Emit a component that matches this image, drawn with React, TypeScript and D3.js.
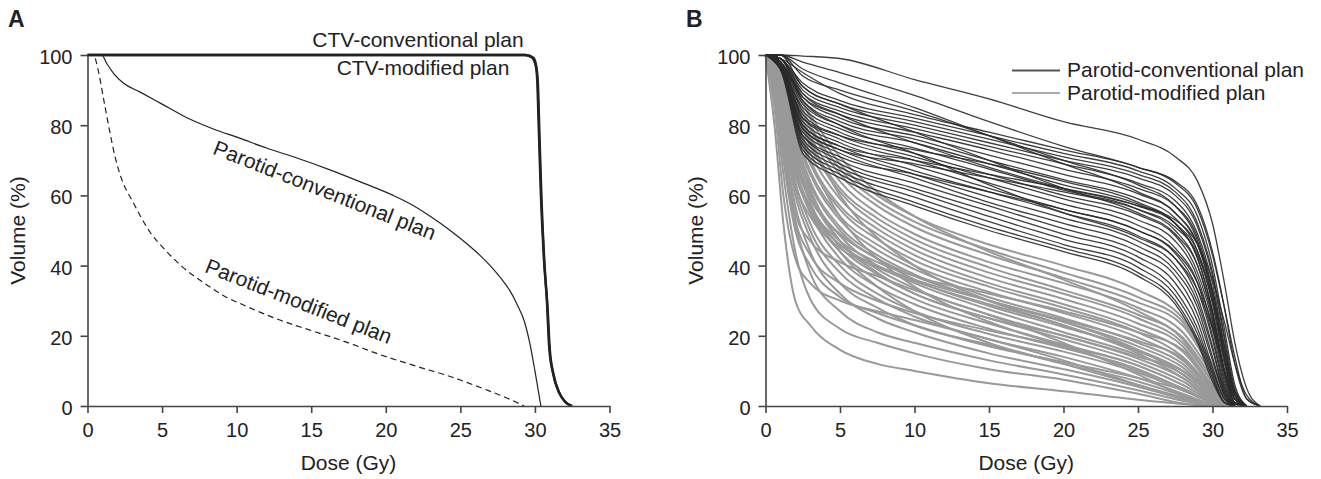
import { useEffect, useRef } from 'react';
import * as d3 from 'd3';

const DOSE_TICKS = [0, 5, 10, 15, 20, 25, 30, 35];
const VOLUME_TICKS = [0, 20, 40, 60, 80, 100];

// Panel A curves, [dose Gy, volume %]
const ctvConventional = [
  [0, 100], [29.3, 100], [29.8, 99.3], [30.05, 97], [30.15, 93], [30.25, 80], [30.4, 60],
  [30.6, 42], [30.8, 30], [30.95, 17], [31.2, 9.5], [31.6, 4], [32, 1.3], [32.45, 0],
];
const ctvModified = [
  [0, 100], [29.4, 100], [29.9, 99.2], [30.1, 96.5], [30.2, 92], [30.3, 78], [30.45, 58],
  [30.65, 40], [30.85, 28], [31.0, 16], [31.25, 9], [31.65, 3.6], [32.05, 1.1], [32.5, 0],
];
const parotidConventional = [
  [0, 100], [0.95, 100], [1.3, 97.5], [1.8, 94.5], [2.4, 92], [3.5, 89.5], [5, 86], [6.5, 82.5],
  [8.4, 79], [10.2, 76.3], [12, 73.5], [13.8, 71], [16.3, 67.2], [18.5, 63.5], [20.5, 60],
  [21.6, 57.7], [23, 54], [24.3, 50.1], [25.5, 46], [26.3, 43], [27, 40], [27.7, 36.5],
  [28.3, 33], [28.8, 29], [29.3, 24], [29.7, 17], [30, 10], [30.4, 0],
];
const parotidModified = [
  [0, 100], [0.4, 100], [0.7, 96], [1.1, 87], [1.5, 78], [1.85, 71], [2.3, 64.5], [3, 58.5],
  [4.2, 49.5], [5.2, 44.5], [6.4, 39.5], [8, 34.5], [9.1, 31.5], [10.5, 28.7], [12.7, 24.8],
  [15, 21.5], [17.5, 18], [19.5, 14.8], [22, 11.4], [24.6, 8], [26.5, 5], [28, 2.5], [29.27, 0],
];

// Panel B: volume % at shared dose points
const convDoses = [0, 1, 2.5, 5, 10, 15, 20, 25, 27.5, 29, 30, 30.8, 31.5, 32.3, 33.2];
const convCurves = [
  [100, 100, 99.7, 99, 93, 87.5, 81, 76, 71, 64, 52, 35, 18, 5, 0],
  [100, 100, 98, 95, 88.5, 81, 74, 68, 64, 57, 44, 28, 12, 2, 0],
  [100, 99, 95, 89, 83, 78, 73, 68, 63.5, 56, 43, 28, 14, 2, 0],
  [100, 99, 92, 87, 82, 77, 72, 67, 62, 54, 40, 22, 6, 0, 0],
  [100, 100, 91, 86, 81, 76, 71, 66, 61, 52, 38, 20, 5, 0, 0],
  [100, 99, 90, 85, 80, 75, 70, 65, 60, 51, 37, 19, 4, 0, 0],
  [100, 98, 89, 84, 79, 74, 69, 63.5, 58.5, 49, 35, 17, 3, 0, 0],
  [100, 99, 88, 83, 78, 73, 67.5, 62, 57, 48, 33, 15, 3, 0, 0],
  [100, 98, 88, 82, 77, 71.5, 66, 60.5, 55, 46, 31, 13, 2, 0, 0],
  [100, 99, 87, 81, 76, 70, 64.5, 59, 53.5, 44, 29, 12, 2, 0, 0],
  [100, 98, 86, 80, 75, 69, 63, 57.5, 52, 42, 27, 10, 1, 0, 0],
  [100, 97, 85, 79, 73.5, 67.5, 61.5, 56, 50, 40, 25, 9, 1, 0, 0],
  [100, 98, 84, 78, 72, 66, 60, 54.5, 48.5, 38, 24, 8, 1, 0, 0],
  [100, 97, 83, 77, 71, 65, 59, 53, 47, 36.5, 22, 7, 0.5, 0, 0],
  [100, 98, 82, 76, 70, 63.5, 57.5, 51.5, 45, 35, 20, 6, 0.5, 0, 0],
  [100, 97, 81, 75, 68.5, 62, 56, 50, 43.5, 33, 19, 5, 0, 0, 0],
  [100, 96, 80, 74, 67, 61, 55, 48.5, 42, 31, 17, 4, 0, 0, 0],
  [100, 97, 79, 73, 66, 59.5, 53.5, 47, 40, 29.5, 16, 4, 0, 0, 0],
  [100, 96, 78, 72, 65, 58, 52, 45.5, 38.5, 28, 14, 3, 0, 0, 0],
  [100, 97, 77, 70, 63.5, 57, 50.5, 44, 37, 26, 13, 3, 0, 0, 0],
  [100, 96, 76, 69, 62, 55.5, 49, 42.5, 35, 24, 11, 2, 0, 0, 0],
  [100, 97, 75, 68, 61, 54, 47.5, 41, 33, 22, 10, 2, 0, 0, 0],
  [100, 96, 74, 67, 59.5, 52.5, 46, 39.5, 31.5, 20.5, 9, 1, 0, 0, 0],
  [100, 97, 73, 66, 58, 51, 45, 38, 30, 19, 8, 1, 0, 0, 0],
  [100, 96, 72, 65, 57, 50, 44, 37, 29, 18, 7, 1, 0, 0, 0],
  [100, 100, 94, 90, 84, 77, 70, 63, 57, 47, 32, 14, 2, 0, 0],
  [100, 98, 82, 77, 73, 69, 64, 58, 52, 42, 27, 10, 1, 0, 0],
  [100, 99, 91, 86, 78, 70, 62, 55, 49, 40, 26, 10, 1, 0, 0],
  [100, 97, 79, 73, 69, 65, 61, 56, 51, 43, 30, 14, 3, 0, 0],
  [100, 100, 96, 92, 85, 77, 69, 61, 55, 46, 33, 17, 4, 0, 0],
  [100, 98, 87, 80, 72, 63, 55, 48, 42, 33, 22, 10, 2, 0, 0],
  [100, 96, 77, 71, 66, 61, 56, 50, 44, 35, 23, 10, 2, 0, 0],
  [100, 99, 89, 83, 75, 68, 62, 57, 53, 46, 36, 24, 12, 3, 0],
  [100, 97, 80, 74, 70, 66, 62, 57, 52, 44, 31, 16, 4, 0, 0],
];

const modDoses = [0, 0.6, 1.2, 2, 3, 5, 7.5, 10, 15, 20, 25, 28, 30, 31.5];
const modCurves = [
  [100, 80, 52, 30, 23, 16, 12, 10, 6.5, 4.2, 1.8, 0.6, 0, 0],
  [100, 88, 66, 44, 30.5, 22, 18, 15, 10.5, 7.5, 3.5, 0.8, 0, 0],
  [100, 90, 72, 52, 38, 27, 21, 18, 13, 9, 4.5, 1.5, 0, 0],
  [100, 92, 76, 57, 44, 32, 25, 21, 15, 10.5, 5.5, 2, 0.3, 0],
  [100, 93, 78, 60, 48, 35, 28, 23, 17.5, 12, 7, 3, 0.5, 0],
  [100, 94, 80, 62, 50, 38, 30.5, 25.5, 19, 14, 8, 3.5, 0.6, 0],
  [100, 95, 82, 64, 52, 40, 32, 27, 20.5, 15.5, 9.5, 4.5, 1, 0],
  [100, 94, 81, 66, 55, 42, 34, 29, 22, 16.5, 10.5, 5, 1.2, 0],
  [100, 96, 84, 68, 56, 44, 36, 30.5, 23.5, 17.5, 11.5, 6, 1.5, 0],
  [100, 95, 85, 70, 58, 45.5, 37.5, 32, 25, 19, 12.5, 7, 1.8, 0],
  [100, 96, 86, 71, 60, 47, 39, 33.5, 26, 20, 13.5, 8, 2, 0],
  [100, 97, 87, 73, 61, 48.5, 40, 35, 27.5, 21, 14.5, 9, 2.5, 0],
  [100, 96, 88, 74, 63, 50, 42, 36, 28.5, 22.5, 16, 10, 3, 0],
  [100, 97, 89, 76, 64, 51, 43, 37.5, 30, 24, 17, 11, 3.5, 0],
  [100, 98, 90, 77, 66, 53, 44.5, 39, 31, 25, 18, 12, 4, 0],
  [100, 97, 90, 78, 67, 54, 46, 40, 32.5, 26.5, 19.5, 13, 4.5, 0],
  [100, 98, 91, 80, 69, 56, 47.5, 41.5, 34, 28, 21, 14, 5, 0],
  [100, 98, 92, 81, 70, 57, 49, 43, 35, 29, 22, 15.5, 5.5, 0],
  [100, 99, 93, 82, 72, 59, 50.5, 44.5, 36.5, 30.5, 23.5, 17, 6, 0],
  [100, 98, 93, 84, 74, 61, 52, 46, 38, 32, 25, 18, 7, 0],
  [100, 99, 94, 85, 75, 62, 53.5, 47.5, 39.5, 33, 26, 19.5, 8, 0],
  [100, 99, 95, 87, 77, 64, 55, 49, 41, 35, 28, 21, 9, 0],
  [100, 99, 95, 88, 79, 66, 57, 51, 43, 36.5, 29.5, 23, 10, 0],
  [100, 100, 96, 89, 80, 67.5, 58.5, 52.5, 44.5, 38, 31, 24, 11, 0],
  [100, 100, 97, 91, 82, 69, 60, 54, 46, 40, 33, 25, 12, 0],
  [100, 85, 60, 42, 35, 30, 27, 24.5, 19, 13, 6, 2, 0, 0],
  [100, 92, 74, 55, 47, 41, 37, 33, 26, 18, 9, 3, 0.3, 0],
  [100, 97, 88, 72, 58, 44, 34, 27, 18, 12, 6, 2.5, 0.4, 0],
  [100, 98, 92, 82, 70, 54, 42, 34, 24, 17, 10, 5, 1, 0],
  [100, 95, 83, 66, 56, 46, 40, 36, 30, 24, 16, 9, 2.5, 0],
  [100, 99, 94, 86, 76, 60, 48, 40, 30, 23, 15, 8, 2, 0],
  [100, 93, 79, 63, 54, 45, 39.5, 35.5, 29, 23, 15.5, 10, 3, 0],
  [100, 96, 85, 69, 59, 49, 42, 37, 30, 24.5, 18.5, 13.5, 5, 0],
  [100, 90, 70, 50, 40, 31, 26.5, 23, 17, 12.5, 8, 4.5, 1, 0],
  [100, 99, 96, 90, 83, 71, 61, 54, 44, 36, 27, 19, 7, 0],
  [100, 94, 82, 67, 57, 47, 41, 37, 32, 27, 21, 16, 6, 0],
  [100, 97, 89, 75, 62, 47, 38, 32, 25, 20, 14, 10, 4, 0],
  [100, 91, 73, 53, 43, 35, 30, 26.5, 21.5, 17, 11.5, 6, 1.5, 0],
];

const FONT = '"Liberation Sans", Arial, Helvetica, sans-serif';
const AXIS_COLOR = '#444';

// keep points up to the first zero so the tail does not run along the axis
function toPoints(doses: number[], vols: number[]) {
  const pts: [number, number][] = [];
  for (let i = 0; i < doses.length; i++) {
    pts.push([doses[i], vols[i]]);
    if (vols[i] === 0) break;
  }
  return pts;
}

function Axes({ x, y }: { x: d3.ScaleLinear<number, number>; y: d3.ScaleLinear<number, number> }) {
  const gx = useRef<SVGGElement>(null);
  const gy = useRef<SVGGElement>(null);

  useEffect(() => {
    const xAxis = d3.axisBottom(x).tickValues(DOSE_TICKS).tickSize(7).tickSizeOuter(0).tickPadding(10);
    const yAxis = d3.axisLeft(y).tickValues(VOLUME_TICKS).tickSize(7).tickSizeOuter(0).tickPadding(8);
    [
      d3.select(gx.current!).call(xAxis),
      d3.select(gy.current!).call(yAxis),
    ].forEach((g) => {
      g.attr('font-family', FONT).attr('font-size', 20);
      g.selectAll('path, line').attr('stroke', AXIS_COLOR).attr('stroke-width', 1.6);
      g.selectAll('text').attr('fill', '#222');
    });
    d3.select(gy.current!).selectAll('text').attr('dy', '0.42em');
  }, [x, y]);

  return (
    <>
      <g ref={gx} transform={`translate(0,${y(0)})`} />
      <g ref={gy} transform={`translate(${x(0)},0)`} />
    </>
  );
}

export default function App() {
  const width = 1321;
  const height = 479;
  const yScale = d3.scaleLinear().domain([0, 100]).range([406, 55]);
  const xA = d3.scaleLinear().domain([0, 35]).range([87.5, 609.5]);
  const xB = d3.scaleLinear().domain([0, 35]).range([765.5, 1287]);

  const lineA = d3.line<number[]>().x((d) => xA(d[0])).y((d) => yScale(d[1])).curve(d3.curveMonotoneX);
  const lineB = d3.line<number[]>().x((d) => xB(d[0])).y((d) => yScale(d[1])).curve(d3.curveMonotoneX);

  const midY = (yScale(0) + yScale(100)) / 2;

  return (
    <svg
      width={width}
      height={height}
      style={{ position: 'absolute', left: 0, top: 0, background: '#fff' }}
      fontFamily={FONT}
    >
      {/* Panel A */}
      <text x={8} y={27} fontSize={23} fontWeight="bold" fill="#222">A</text>
      <path d={lineA(parotidModified)!} fill="none" stroke="#222" strokeWidth={1.2} strokeDasharray="6,4" />
      <path d={lineA(parotidConventional)!} fill="none" stroke="#222" strokeWidth={1.2} />
      <path d={lineA(ctvModified)!} fill="none" stroke="#222" strokeWidth={2.4} />
      <path d={lineA(ctvConventional)!} fill="none" stroke="#222" strokeWidth={2.4} />
      <Axes x={xA} y={yScale} />
      <text x={418} y={47} fontSize={21} textAnchor="middle" fill="#222">CTV-conventional plan</text>
      <text x={423} y={75} fontSize={21} textAnchor="middle" fill="#222">CTV-modified plan</text>
      <text
        transform="translate(322,197) rotate(21.5)"
        fontSize={21}
        textAnchor="middle"
        fill="#222"
      >
        Parotid-conventional plan
      </text>
      <text
        transform="translate(296,308) rotate(21.5)"
        fontSize={21}
        textAnchor="middle"
        fill="#222"
      >
        Parotid-modified plan
      </text>
      <text x={348.5} y={470} fontSize={21} textAnchor="middle" fill="#222">Dose (Gy)</text>
      <text transform={`translate(25,${midY}) rotate(-90)`} fontSize={21} textAnchor="middle" fill="#222">
        Volume (%)
      </text>

      {/* Panel B */}
      <text x={686} y={27} fontSize={23} fontWeight="bold" fill="#222">B</text>
      <g fill="none" stroke="#999" strokeWidth={2}>
        {modCurves.map((c, i) => (
          <path key={`m${i}`} d={lineB(toPoints(modDoses, c))!} />
        ))}
      </g>
      <g fill="none" stroke="#2a2a2a" strokeWidth={1.3} strokeOpacity={0.9}>
        {convCurves.map((c, i) => (
          <path key={`c${i}`} d={lineB(toPoints(convDoses, c))!} />
        ))}
      </g>
      <Axes x={xB} y={yScale} />
      <line x1={1012} x2={1060} y1={70.5} y2={70.5} stroke="#555" strokeWidth={2} />
      <line x1={1012} x2={1060} y1={93} y2={93} stroke="#aaa" strokeWidth={2} />
      <text x={1067} y={77} fontSize={21} fill="#222">Parotid-conventional plan</text>
      <text x={1067} y={100} fontSize={21} fill="#222">Parotid-modified plan</text>
      <text x={(xB(0) + xB(35)) / 2} y={470} fontSize={21} textAnchor="middle" fill="#222">Dose (Gy)</text>
      <text transform={`translate(703,${midY}) rotate(-90)`} fontSize={21} textAnchor="middle" fill="#222">
        Volume (%)
      </text>
    </svg>
  );
}
